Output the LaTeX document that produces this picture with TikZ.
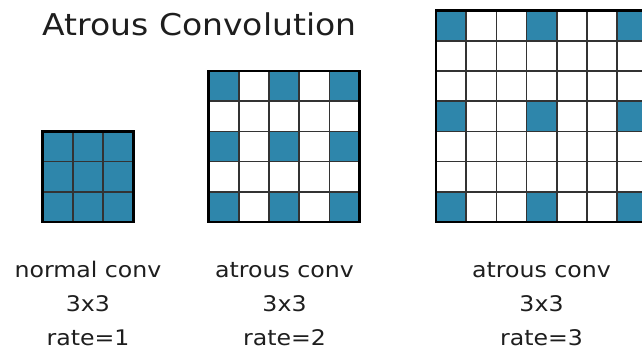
\documentclass[tikz,border=0pt]{standalone}
\usepackage{fontspec}
\newfontfamily\dv[FakeStretch=1.1]{DejaVu Sans}
\definecolor{cellblue}{RGB}{46,134,171}
\definecolor{txt}{RGB}{30,30,30}
\newcommand\mygrid[5]{% #1 x0, #2 y0 (top-left), #3 n, #4 rate, #5 n-1
  \foreach \i in {1,...,#3}{%
    \foreach \j in {1,...,#3}{%
      \pgfmathtruncatemacro\isblue{(mod(\i-1,#4)==0 && mod(\j-1,#4)==0) ? 1 : 0}%
      \ifnum\isblue=1
        \fill[cellblue] ({#1+(\i-1)*30.2},{#2+(\j-1)*30.2}) rectangle ++(30.2,30.2);
      \fi
    }%
  }%
  \foreach \k in {1,...,#5}{%
    \draw[innerline] ({#1+\k*30.2},#2) -- ++(0,{#3*30.2});
    \draw[innerline] (#1,{#2+\k*30.2}) -- ++({#3*30.2},0);
  }%
  \draw[outerline] (#1,#2) rectangle ++({#3*30.2},{#3*30.2});
}
\begin{document}
\begin{tikzpicture}[x=1pt,y=-1pt,
  lbl/.style={font=\dv\fontsize{21.5}{25}\selectfont, text=txt, inner sep=0pt, anchor=base},
  ttl/.style={font=\dv\fontsize{30}{36}\selectfont, text=txt, inner sep=0pt, anchor=base},
  innerline/.style={line width=1.7pt, draw=black!80},
  outerline/.style={line width=2.8pt, draw=black}]
\useasboundingbox (0,0) rectangle (642,351);
\fill[white] (0,0) rectangle (642,351);
\clip (0,0) rectangle (642,351);
\node[ttl] (title) at (199.5,35) {Atrous Convolution};
\mygrid{42.6}{131.4}{3}{1}{2}
\mygrid{208.6}{71}{5}{2}{4}
\mygrid{436}{10.6}{7}{3}{6}
\node[lbl] (l1a) at (88,277) {normal conv};
\node[lbl] (l1b) at (88,311) {3x3};
\node[lbl] (l1c) at (88,345) {rate=1};
\node[lbl] (l2a) at (284.5,277) {atrous conv};
\node[lbl] (l2b) at (284.5,311) {3x3};
\node[lbl] (l2c) at (284.5,345) {rate=2};
\node[lbl] (l3a) at (541.5,277) {atrous conv};
\node[lbl] (l3b) at (541.5,311) {3x3};
\node[lbl] (l3c) at (541.5,345) {rate=3};
\end{tikzpicture}
\end{document}
